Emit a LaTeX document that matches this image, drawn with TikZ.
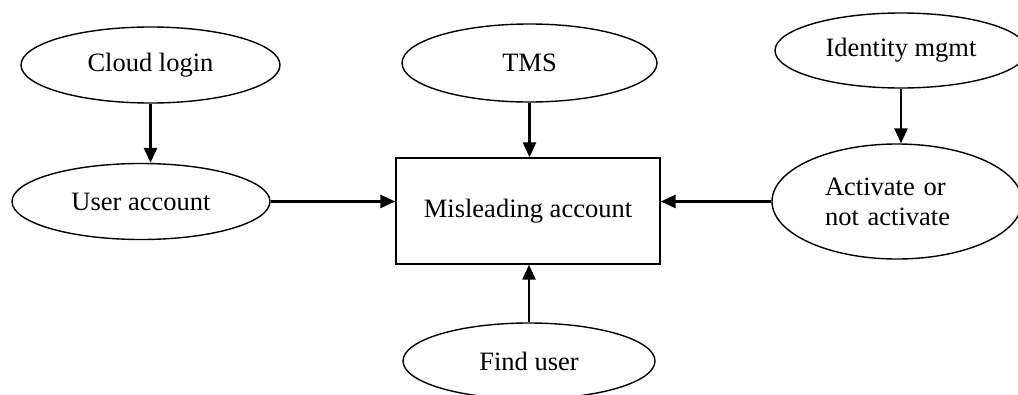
\documentclass[tikz,border=0pt]{standalone}
\usepackage{fontspec}
\setmainfont{Liberation Serif}
\usetikzlibrary{shapes.geometric,arrows.meta}

\begin{document}
\begin{tikzpicture}[x=1pt,y=-1pt,
   oval/.style={draw, ellipse, line width=1.4pt, inner sep=0pt, font=\fontsize{26.5}{30}\selectfont},
   box/.style={draw, rectangle, line width=1.4pt, minimum width=264pt, minimum height=106pt, font=\fontsize{26.5}{30}\selectfont},
   flow/.style={line width=2.7pt, -{Triangle[length=15pt,width=13pt]}}]
   \useasboundingbox (0,0) rectangle (1018,394);

   % the box in the middle
   \node[box] (misleading) at (528,211) {Misleading account};

   % the ovals round it
   \node[oval, minimum width=259pt, minimum height=76pt] (cloud) at (150.5,65) {Cloud login};
   \node[oval, minimum width=258pt, minimum height=76pt] (user) at (141,201.5) {User account};
   \node[oval, minimum width=255pt, minimum height=78pt] (tms) at (529.5,63) {TMS};
   \node[oval, minimum width=252pt, minimum height=75pt] (identity) at (901,50.5) {Identity mgmt};
   \node[oval, minimum width=250pt, minimum height=115pt, text width=144pt, align=left] (activate) at (897,201.5) {Activate or\\not activate};
   \node[oval, minimum width=252pt, minimum height=76pt] (finduser) at (529,361) {Find user};

   % arrows
   \draw[flow] (cloud.south) -- (cloud.south |- user.north);
   \draw[flow] (tms.south) -- (tms.south |- misleading.north);
   \draw[flow] (identity.south) -- (identity.south |- activate.north);
   \draw[flow] (user.east) -- (misleading.west |- user.east);
   \draw[flow] (activate.west) -- (misleading.east |- activate.west);
   \draw[flow] (finduser.north) -- (finduser.north |- misleading.south);
\end{tikzpicture}
\end{document}
